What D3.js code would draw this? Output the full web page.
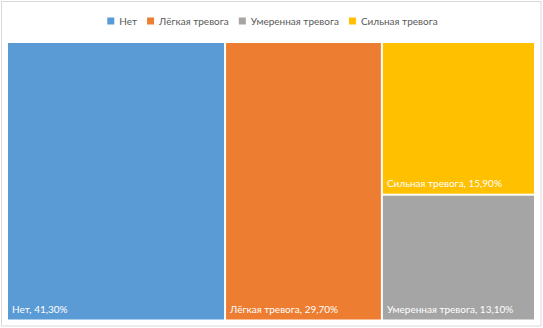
<!DOCTYPE html>
<html lang="ru">
<head>
<meta charset="UTF-8">
<title>Тревога</title>
<script src="https://d3js.org/d3.v7.min.js"></script>
<style>
    body { margin: 0; background: #fff; }
    svg { display: block; }
    text { font-family: Lato, "Open Sans", sans-serif; }
</style>
</head>
<body>
<script>
    // data
    const categories = ["Нет", "Лёгкая тревога", "Умеренная тревога", "Сильная тревога"]
    const shares = [41.3, 29.7, 13.1, 15.9]
    const colors = ["#5B9BD5", "#ED7D31", "#A5A5A5", "#FFC000"]

    const width = 543
    const height = 328
    const plot = {x0: 8, y0: 43, x1: 534, y1: 319.5}

    const svg = d3.select("body").append("svg")
        .attr("width", width)
        .attr("height", height)

    // chart frame
    svg.append("rect")
        .attr("x", 1.5).attr("y", 1.5)
        .attr("width", width - 3.5).attr("height", height - 3.5)
        .attr("fill", "#fff")
        .attr("stroke", "#D9D9D9")

    const color = d3.scaleOrdinal().domain(categories).range(colors)
    const fmt = v => d3.format(".2f")(v).replace(".", ",") + "%"

    const root = d3.hierarchy({children: categories.map((c, i) => ({name: c, value: shares[i]}))})
        .sum(d => d.value)
        .sort((a, b) => b.value - a.value)

    // excel-like squarified layout (aspect target 1)
    d3.treemap()
        .tile(d3.treemapSquarify.ratio(1))
        .size([plot.x1 - plot.x0, plot.y1 - plot.y0])
        .paddingInner(2)(root)

    const tiles = svg.append("g")
        .attr("transform", `translate(${plot.x0},${plot.y0})`)
        .selectAll("g")
        .data(root.leaves())
        .join("g")

    tiles.append("rect")
        .attr("x", d => d.x0)
        .attr("y", d => d.y0)
        .attr("width", d => d.x1 - d.x0)
        .attr("height", d => d.y1 - d.y0)
        .attr("fill", d => color(d.data.name))

    tiles.append("text")
        .attr("x", d => d.x0 + 4)
        .attr("y", d => d.y1 - 6.5)
        .attr("fill", "#fff")
        .attr("font-size", 10)
        .text(d => `${d.data.name}, ${fmt(d.data.value)}`)

    // legend, centred on the chart
    const legend = svg.append("g")
    let lx = 0
    categories.forEach((c, i) => {
        const item = legend.append("g").attr("transform", `translate(${lx},0)`)
        item.append("rect")
            .attr("x", 0).attr("y", -3.5)
            .attr("width", 7).attr("height", 7)
            .attr("fill", color(c))
        const t = item.append("text")
            .attr("x", 12).attr("y", 3.5)
            .attr("font-size", 10)
            .attr("fill", "#595959")
            .text(c)
        lx += 12 + t.node().getComputedTextLength() + (i < categories.length - 1 ? 10 : 0)
    })
    legend.attr("transform", `translate(${(width - lx) / 2 + 1},21)`)
</script>
</body>
</html>
